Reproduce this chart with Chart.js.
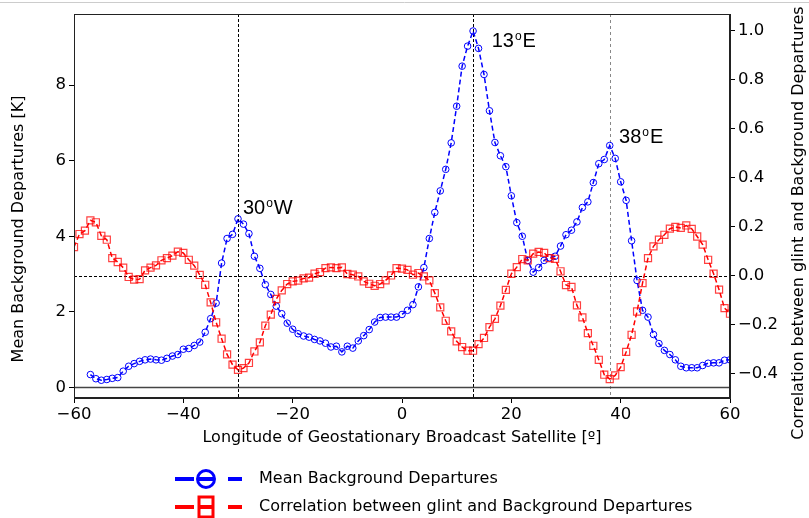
<!DOCTYPE html>
<html>
<head>
<meta charset="utf-8">
<script src="https://cdn.jsdelivr.net/npm/chart.js@4"></script>
<style>
    body { margin: 0; background: #fff; }
    #wrap { width: 809px; height: 518px; }
</style>
</head>
<body>
<div id="wrap"><canvas id="myChart" width="809" height="518"></canvas></div>
<script>
const longitudes = [
    -60, -59, -58, -57, -56, -55, -54, -53, -52, -51, -50, -49, -48, -47, -46, -45, -44, -43, -42, -41,
    -40, -39, -38, -37, -36, -35, -34, -33, -32, -31, -30, -29, -28, -27, -26, -25, -24, -23, -22, -21,
    -20, -19, -18, -17, -16, -15, -14, -13, -12, -11, -10, -9, -8, -7, -6, -5, -4, -3, -2, -1,
    0, 1, 2, 3, 4, 5, 6, 7, 8, 9, 10, 11, 12, 13, 14, 15, 16, 17, 18, 19,
    20, 21, 22, 23, 24, 25, 26, 27, 28, 29, 30, 31, 32, 33, 34, 35, 36, 37, 38, 39,
    40, 41, 42, 43, 44, 45, 46, 47, 48, 49, 50, 51, 52, 53, 54, 55, 56, 57, 58, 59, 60
];
// Mean background departures [K] (left axis), no data west of -57
const meanDepartures = [
    null, null, null, 0.34, 0.23, 0.19, 0.21, 0.24, 0.26, 0.43, 0.56, 0.63, 0.69, 0.73, 0.75, 0.73, 0.72, 0.77, 0.83, 0.87,
    1.01, 1.03, 1.11, 1.20, 1.46, 1.82, 2.23, 3.29, 3.94, 4.05, 4.46, 4.32, 4.07, 3.47, 3.15, 2.72, 2.46, 2.15, 1.95, 1.70,
    1.54, 1.42, 1.36, 1.33, 1.27, 1.23, 1.17, 1.07, 1.09, 0.94, 1.09, 1.04, 1.23, 1.37, 1.53, 1.73, 1.85, 1.86, 1.86, 1.86,
    1.93, 2.04, 2.19, 2.66, 3.17, 3.94, 4.63, 5.20, 5.77, 6.47, 7.44, 8.50, 9.03, 9.43, 8.97, 8.28, 7.32, 6.48, 6.13, 5.84,
    5.07, 4.36, 4.00, 3.36, 3.05, 3.17, 3.36, 3.43, 3.47, 3.74, 4.04, 4.16, 4.38, 4.76, 4.91, 5.42, 5.92, 6.03, 6.40, 6.06,
    5.44, 4.95, 3.88, 2.83, 2.04, 1.86, 1.40, 1.16, 0.98, 0.87, 0.73, 0.56, 0.52, 0.52, 0.52, 0.58, 0.64, 0.65, 0.65, 0.72, 0.73
];
// Correlation between glint and background departures (right axis)
const correlation = [
    0.117, 0.170, 0.184, 0.226, 0.218, 0.163, 0.147, 0.072, 0.056, 0.033, -0.005, -0.016, -0.014, 0.022, 0.033, 0.042, 0.063, 0.072, 0.082, 0.098,
    0.093, 0.065, 0.041, 0.003, -0.037, -0.109, -0.190, -0.257, -0.321, -0.363, -0.384, -0.377, -0.356, -0.309, -0.272, -0.204, -0.159, -0.095, -0.060, -0.034,
    -0.023, -0.020, -0.011, -0.008, 0.008, 0.015, 0.031, 0.034, 0.031, 0.034, 0.007, 0.004, -0.003, -0.023, -0.033, -0.041, -0.034, -0.019, 0.001, 0.031,
    0.029, 0.024, 0.004, 0.011, -0.003, -0.019, -0.071, -0.129, -0.184, -0.227, -0.268, -0.291, -0.306, -0.306, -0.279, -0.254, -0.210, -0.176, -0.122, -0.058,
    0.008, 0.035, 0.068, 0.063, 0.090, 0.097, 0.093, 0.072, 0.069, 0.018, -0.038, -0.046, -0.121, -0.170, -0.234, -0.286, -0.343, -0.404, -0.422, -0.407,
    -0.373, -0.311, -0.241, -0.146, -0.030, 0.072, 0.120, 0.147, 0.167, 0.192, 0.199, 0.195, 0.205, 0.191, 0.160, 0.127, 0.065, 0.008, -0.057, -0.132, -0.155
];

const xTicks = [-60, -40, -20, 0, 20, 40, 60];
const leftTicks = [0, 2, 4, 6, 8];
const rightTicks = [-0.4, -0.2, 0, 0.2, 0.4, 0.6, 0.8, 1.0];

// satellite positions and their labels (label anchor in data coords, left axis)
const satLons = [-30, 13, 38];
const satNames = [["30", "W"], ["13", "E"], ["38", "E"]];
const satLabelX = [-29.1, 16.4, 39.7];
const satLabelY = [4.59, 9.0, 6.48];

const seriesNames = ["Mean Background Departures", "Correlation between glint and Background Departures"];
const leftTitle = "Mean Background Departures [K]";
const rightTitle = "Correlation between glint and Background Departures";

const FONT = "'DejaVu Sans', sans-serif";
Chart.defaults.font.family = FONT;
Chart.defaults.color = "#000";

const minus = v => String(v).replace("-", "\u2212");

function drawSatLabel(ctx, x, y, parts) {
    ctx.fillStyle = "#000";
    ctx.textAlign = "left";
    ctx.textBaseline = "alphabetic";
    ctx.font = "20px 'Liberation Sans'";
    ctx.fillText(parts[0], x, y);
    let w = ctx.measureText(parts[0]).width + 1;
    ctx.font = "12px 'Liberation Sans'";
    ctx.fillText("o", x + w, y - 7);
    w += ctx.measureText("o").width + 1;
    ctx.font = "20px 'Liberation Sans'";
    ctx.fillText(parts[1], x + w, y);
}

// vertical text reading bottom to top
function drawVertical(ctx, text, x, y) {
    ctx.save();
    ctx.translate(x, y);
    ctx.rotate(-Math.PI / 2);
    ctx.font = "16px " + FONT;
    ctx.fillStyle = "#000";
    ctx.textAlign = "center";
    ctx.textBaseline = "middle";
    ctx.fillText(text, 0, 0);
    ctx.restore();
}

const overlay = {
    id: "overlay",
    beforeDatasetsDraw(chart) {
        const { ctx, chartArea: a, scales } = chart;
        ctx.save();
        ctx.lineWidth = 1;
        satLons.forEach((lon, i) => {
            const x = Math.round(scales.x.getPixelForValue(lon)) + 0.5;
            ctx.strokeStyle = i === 2 ? "#888" : "#000";
            ctx.setLineDash(i === 2 ? [3, 3] : [3, 2]);
            ctx.beginPath();
            ctx.moveTo(x, a.top);
            ctx.lineTo(x, a.bottom);
            ctx.stroke();
        });
        // correlation = 0
        const yc = Math.round(scales.y1.getPixelForValue(0)) + 0.5;
        ctx.strokeStyle = "#000";
        ctx.setLineDash([3, 2]);
        ctx.beginPath();
        ctx.moveTo(a.left, yc);
        ctx.lineTo(a.right, yc);
        ctx.stroke();
        // departures = 0
        const y0 = scales.y.getPixelForValue(0);
        ctx.setLineDash([]);
        ctx.strokeStyle = "#444";
        ctx.lineWidth = 1.5;
        ctx.beginPath();
        ctx.moveTo(a.left, y0);
        ctx.lineTo(a.right, y0);
        ctx.stroke();
        ctx.restore();
    },
    afterDraw(chart) {
        const { ctx, chartArea: a, scales } = chart;
        ctx.save();
        // thin rule at the very top of the figure
        ctx.strokeStyle = "#ccc";
        ctx.lineWidth = 1;
        ctx.beginPath();
        ctx.moveTo(0, 2.5);
        ctx.lineTo(chart.width, 2.5);
        ctx.stroke();
        // frame
        ctx.strokeStyle = "#222";
        ctx.strokeRect(a.left + 0.5, a.top + 0.5, a.right - a.left - 1, a.bottom - a.top - 1);

        satLons.forEach((lon, i) => {
            drawSatLabel(ctx, scales.x.getPixelForValue(satLabelX[i]), scales.y.getPixelForValue(satLabelY[i]), satNames[i]);
        });

        drawVertical(ctx, leftTitle, 19, 229);
        drawVertical(ctx, rightTitle, 799, 223);

        // legend below the axes
        const rows = [479, 507];
        chart.data.datasets.forEach((ds, i) => {
            const y = rows[i];
            ctx.strokeStyle = ds.borderColor;
            ctx.lineWidth = 4;
            ctx.setLineDash([]);
            [[175, 194], [199, 213], [228, 242]].forEach(([x1, x2]) => {
                ctx.beginPath();
                ctx.moveTo(x1, y);
                ctx.lineTo(x2, y);
                ctx.stroke();
            });
            ctx.lineWidth = 3;
            ctx.beginPath();
            if (i === 0) ctx.arc(206, y, 8.5, 0, Math.PI * 2);
            else ctx.rect(199, y - 10, 14, 20);
            ctx.stroke();
            ctx.fillStyle = "#000";
            ctx.font = "16px " + FONT;
            ctx.textAlign = "left";
            ctx.textBaseline = "middle";
            ctx.fillText(seriesNames[i], 259, y);
        });
        ctx.restore();
    }
};

const ctx = document.getElementById("myChart").getContext("2d");

const tickFont = { size: 16.5 };
const axisGrid = { display: true, drawOnChartArea: false, drawTicks: true, tickLength: 5, color: "#000", tickColor: "#000" };

new Chart(ctx, {
    type: "line",
    data: {
        datasets: [
            {
                label: seriesNames[0],
                data: longitudes.map((lon, i) => ({ x: lon, y: meanDepartures[i] })),
                yAxisID: "y",
                borderColor: "#0000ff",
                borderWidth: 1.5,
                borderDash: [5, 3],
                pointStyle: "circle",
                pointRadius: 3.3,
                pointBorderWidth: 1,
                pointBorderColor: "#0000ff",
                pointBackgroundColor: "rgba(0,0,0,0)",
                fill: false,
                order: 1
            },
            {
                label: seriesNames[1],
                data: longitudes.map((lon, i) => ({ x: lon, y: correlation[i] })),
                yAxisID: "y1",
                borderColor: "#ff0000",
                borderWidth: 1.5,
                borderDash: [5, 3],
                pointStyle: "rect",
                pointRadius: 5,
                pointBorderWidth: 1.2,
                pointBorderColor: "rgba(255,0,0,0.75)",
                pointBackgroundColor: "rgba(0,0,0,0)",
                fill: false,
                order: 0
            }
        ]
    },
    options: {
        responsive: false,
        animation: false,
        layout: { padding: { left: 0, right: 0, top: 14, bottom: 70 } },
        plugins: { legend: { display: false }, tooltip: { enabled: false } },
        scales: {
            x: {
                type: "linear",
                min: -60,
                max: 60,
                grid: axisGrid,
                border: { display: true, color: "#222" },
                ticks: { font: tickFont, padding: 2, maxRotation: 0, autoSkip: false, callback: v => minus(v) },
                afterBuildTicks: axis => { axis.ticks = xTicks.map(v => ({ value: v })); },
                afterFit: axis => { axis.height = 50; },
                title: { display: true, text: "Longitude of Geostationary Broadcast Satellite [\u00ba]", font: { size: 16 }, padding: { top: 0, bottom: 1 } }
            },
            y: {
                type: "linear",
                position: "left",
                min: -0.28,
                max: 9.88,
                grid: axisGrid,
                border: { display: true, color: "#222" },
                ticks: { font: tickFont, padding: 3, callback: v => minus(v) },
                afterBuildTicks: axis => { axis.ticks = leftTicks.map(v => ({ value: v })); },
                afterFit: axis => { axis.width = 74; }
            },
            y1: {
                type: "linear",
                position: "right",
                min: -0.499,
                max: 1.068,
                grid: axisGrid,
                border: { display: true, color: "#222" },
                ticks: { font: tickFont, padding: 3, callback: v => minus(v.toFixed(1)) },
                afterBuildTicks: axis => { axis.ticks = rightTicks.map(v => ({ value: v })); },
                afterFit: axis => { axis.width = 79; }
            }
        }
    },
    plugins: [overlay]
});
</script>
</body>
</html>
